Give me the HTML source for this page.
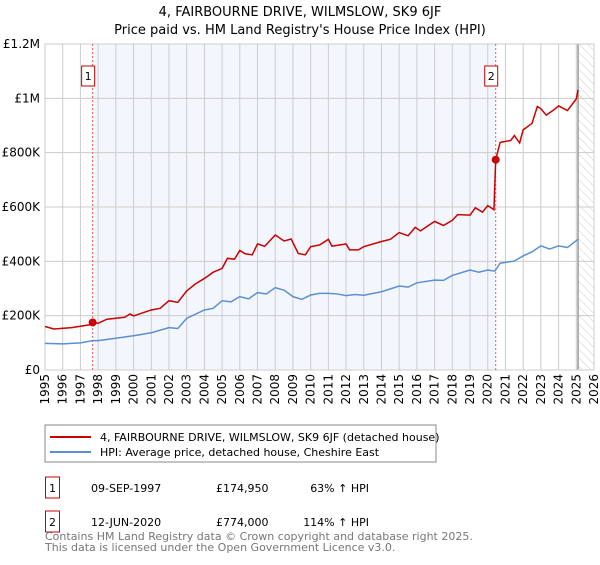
<!DOCTYPE html>
<html><head><meta charset="utf-8"><style>
body{margin:0;background:#fff;font-family:"Liberation Sans","DejaVu Sans",sans-serif;}
svg text{font-family:"DejaVu Sans","Liberation Sans",sans-serif;}
</style></head><body>
<svg id="c" width="600" height="560" xmlns="http://www.w3.org/2000/svg">
<defs><pattern id="hatch" width="6" height="6" patternUnits="userSpaceOnUse" patternTransform="rotate(-45)"><line x1="0" y1="0" x2="0" y2="6" stroke="#ccc" stroke-width="1"/></pattern></defs>
<text x="300" y="16" text-anchor="middle" font-size="13">4, FAIRBOURNE DRIVE, WILMSLOW, SK9 6JF</text>
<text x="300" y="34" text-anchor="middle" font-size="13">Price paid vs. HM Land Registry's House Price Index (HPI)</text>
<g id="plot"></g>
<rect x="45" y="425" width="391" height="37" fill="#fff" stroke="#888"/>
<line x1="50" y1="437" x2="91" y2="437" stroke="#cc0000" stroke-width="2"/>
<text x="100" y="441" font-size="11">4, FAIRBOURNE DRIVE, WILMSLOW, SK9 6JF (detached house)</text>
<line x1="50" y1="452" x2="91" y2="452" stroke="#5b8fd4" stroke-width="2"/>
<text x="100" y="456" font-size="11">HPI: Average price, detached house, Cheshire East</text>
<g font-size="11">
<rect x="45.5" y="477" width="14" height="21" fill="#fff" stroke="#cc0000"/><text x="52.5" y="492" text-anchor="middle">1</text>
<text x="91" y="492">09-SEP-1997</text><text x="216" y="492">£174,950</text><text x="369" y="492" text-anchor="end">63% ↑ HPI</text></g>
<g font-size="11">
<rect x="45.5" y="511" width="14" height="21" fill="#fff" stroke="#cc0000"/><text x="52.5" y="526" text-anchor="middle">2</text>
<text x="91" y="526">12-JUN-2020</text><text x="216" y="526">£774,000</text><text x="369" y="526" text-anchor="end">114% ↑ HPI</text></g>
<text x="45" y="540" font-size="11" fill="#777">Contains HM Land Registry data © Crown copyright and database right 2025.</text>
<text x="45" y="551" font-size="11" fill="#777">This data is licensed under the Open Government Licence v3.0.</text>
</svg>
<script>
const hpiYears=[1995,1996,1997,1997.7,1998,1999,2000,2001,2002,2002.5,2003,2004,2004.5,2005,2005.5,2006,2006.5,2007,2007.5,2008,2008.5,2009,2009.5,2010,2010.5,2011,2011.5,2012,2012.5,2013,2014,2015,2015.5,2016,2017,2017.5,2018,2019,2019.5,2020,2020.4,2020.7,2021.5,2022,2022.5,2023,2023.5,2024,2024.5,2025.1];
const hpiValues=[98,96,100,108,108,117,126,137,156,153,190,221,227,255,251,270,262,285,280,303,294,270,260,276,282,282,280,274,278,275,288,309,305,321,331,330,348,368,360,368,364,393,401,420,435,457,445,457,451,481];
const priceYears=[1995,1995.5,1996.5,1997.5,1997.69,1998,1998.5,1999.5,1999.8,2000,2001,2001.5,2002,2002.5,2003,2003.5,2004,2004.5,2005,2005.3,2005.7,2006,2006.3,2006.7,2007,2007.4,2008,2008.5,2008.9,2009.3,2009.7,2010,2010.5,2011,2011.2,2012,2012.2,2012.7,2013,2014,2014.5,2015,2015.5,2015.9,2016.2,2017,2017.5,2018,2018.3,2019,2019.3,2019.7,2020,2020.35,2020.45,2020.7,2021.3,2021.5,2021.8,2022,2022.5,2022.8,2023,2023.3,2023.7,2024,2024.5,2024.7,2025,2025.1];
const priceValues=[160,151,156,166,175,172,187,194,206,199,221,227,255,249,291,317,337,360,374,411,408,440,428,424,464,455,497,475,482,429,424,454,460,481,456,464,442,442,454,473,481,506,494,525,512,547,532,551,572,570,597,581,605,590,774,838,845,863,836,884,908,970,962,938,956,972,955,972,998,1031];
const yTicks=[0,200,400,600,800,1000,1200];
const yTickLabels=["£0","£200K","£400K","£600K","£800K","£1M","£1.2M"];
const xTicks=[1995,1996,1997,1998,1999,2000,2001,2002,2003,2004,2005,2006,2007,2008,2009,2010,2011,2012,2013,2014,2015,2016,2017,2018,2019,2020,2021,2022,2023,2024,2025,2026];
const sales=[{label:"1",year:1997.69,value:174.95},{label:"2",year:2020.45,value:774}];
const dataEnd=2025.1;
const X0=45,X1=594,Y0=370,Y1=44;
const xs=y=>X0+(y-1995)/(2026-1995)*(X1-X0);
const ys=v=>Y0-v/1200*(Y0-Y1);
const NS="http://www.w3.org/2000/svg";
const g=document.getElementById('plot');
function mk(t,a,p){const e=document.createElementNS(NS,t);for(const k in a)e.setAttribute(k,a[k]);(p||g).appendChild(e);return e;}
mk('rect',{x:X0,y:Y1,width:X1-X0,height:Y0-Y1,fill:'#fff'});
let sh=mk('rect',{x:xs(sales[0].year),y:Y1,width:xs(sales[1].year)-xs(sales[0].year),height:Y0-Y1,fill:'#eef3fc',opacity:0.7});


let ht=mk('rect',{x:xs(dataEnd),y:Y1,width:X1-xs(dataEnd),height:Y0-Y1,fill:'url(#hatch)'});


xTicks.forEach(t=>{mk('line',{x1:xs(t),x2:xs(t),y1:Y1,y2:Y0,stroke:'#ccc'});
 const tg=mk('g',{transform:'translate('+(xs(t)+4)+','+(Y0+4)+') rotate(-90)'});
 const tx=mk('text',{x:0,y:0,'font-size':12,'text-anchor':'end'},tg);tx.textContent=t;
 
 });
yTicks.forEach((t,i)=>{mk('line',{x1:X0,x2:X1,y1:ys(t),y2:ys(t),stroke:'#ccc'});
 const tx=mk('text',{x:40,y:ys(t)+4,'font-size':12,'text-anchor':'end'});tx.textContent=yTickLabels[i];
 
 });
mk('line',{x1:xs(dataEnd),x2:xs(dataEnd),y1:Y1,y2:Y0,stroke:'#999','stroke-width':1.5});
mk('rect',{x:X0,y:Y1,width:X1-X0,height:Y0-Y1,fill:'none',stroke:'#ccc'});
sales.forEach(s=>{mk('line',{x1:xs(s.year),x2:xs(s.year),y1:Y1,y2:Y0,stroke:'#e06060','stroke-dasharray':'2,2'});
 const b=mk('rect',{x:xs(s.year)-11,y:66,width:13,height:20,fill:'#fff',stroke:'#cc0000'});
 
 
 const t=mk('text',{x:xs(s.year)-4.5,y:80,'font-size':11,'text-anchor':'middle'});t.textContent=s.label;});
const hp=mk('polyline',{points:hpiYears.map((y,i)=>xs(y)+','+ys(hpiValues[i])).join(' '),fill:'none',stroke:'#5b8fd4','stroke-width':1.5});


const pp=mk('polyline',{points:priceYears.map((y,i)=>xs(y)+','+ys(priceValues[i])).join(' '),fill:'none',stroke:'#cc0000','stroke-width':1.5});


sales.forEach(s=>{const c=mk('circle',{cx:xs(s.year),cy:ys(s.value),r:4,fill:'#cc0000'});
 
 });
</script>
</body></html>
